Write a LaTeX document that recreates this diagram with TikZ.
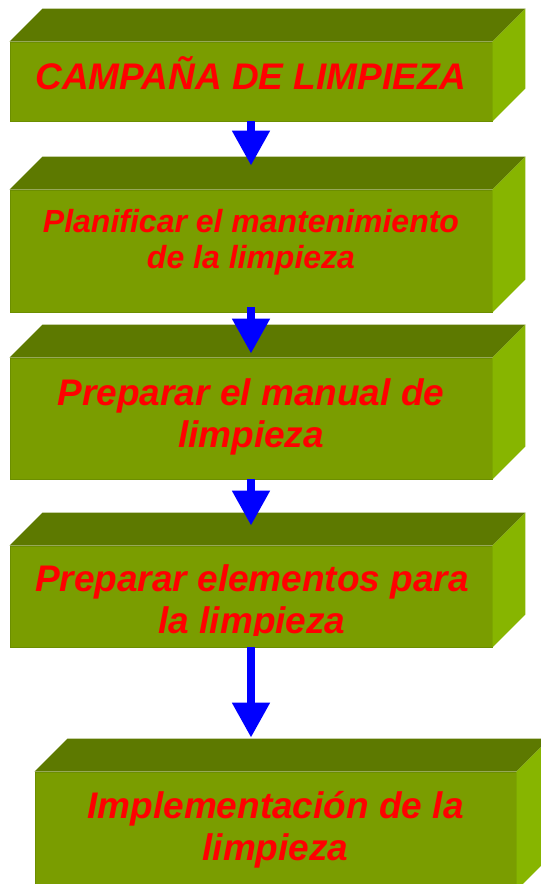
\documentclass[tikz,border=0pt]{standalone}
\usepackage{fontspec}
\setmainfont{Liberation Sans}
\usetikzlibrary{arrows.meta}
\definecolor{frontc}{RGB}{122,157,0}
\definecolor{topc}{RGB}{93,121,0}
\definecolor{sidec}{RGB}{135,181,0}
\definecolor{edgec}{RGB}{108,142,0}
\tikzset{
  front/.style={fill=frontc, draw=edgec, line width=0.8pt, inner sep=0pt},
  topface/.style={fill=topc},
  sideface/.style={fill=sidec},
  lbl/.style={text=red, font=\bfseries\itshape\fontsize{37}{42}\selectfont, align=center, anchor=base, inner sep=0pt},
  lblsmall/.style={lbl, font=\bfseries\itshape\fontsize{32}{36}\selectfont},
  arr/.style={draw=blue, line width=8pt, -{Triangle[width=36pt,length=35pt]}},
}
\newcommand\cubebox[5]{% name, cx, cy, w, h
  \node[front, minimum width=#4pt, minimum height=#5pt] (#1) at (#2,#3) {};
  \fill[topface] (#1.north west) -- ++(33,-33) -- ([shift={(33,-33)}]#1.north east) -- (#1.north east) -- cycle;
  \fill[sideface] (#1.north east) -- ++(33,-33) -- ([shift={(33,-33)}]#1.south east) -- (#1.south east) -- cycle;
}
\begin{document}
\begin{tikzpicture}[x=1pt,y=-1pt]
\clip (0,0) rectangle (541,884);
\cubebox{b1}{251}{81.5}{482}{79}
\cubebox{b2}{251}{251}{482}{122}
\cubebox{b3}{251}{418.5}{482}{121}
\cubebox{b4}{251}{596.5}{482}{101}
\cubebox{b5}{275.5}{831}{481}{118}

% anchor=base of a multi-line node is the baseline of its last line
\node[lbl] (t1) at (251,89) {CAMPAÑA DE LIMPIEZA};
\node[lblsmall] (t2) at (251,268) {Planificar el mantenimiento\\de la limpieza};
\node[lbl] (t3) at (251,447) {Preparar el manual de\\limpieza};
\begin{scope}
  \clip (0,546) rectangle (541,635);
  \node[lbl] (t4) at (252,633) {Preparar elementos para\\la limpieza};
\end{scope}
\node[lbl] (t5) at (275.5,860) {Implementación de la\\limpieza};

\draw[arr] (b1.south) -- ([yshift=24pt]b2.north);
\draw[arr] ([yshift=5pt]b2.south) -- ([yshift=4pt]b3.north);
\draw[arr] (b3.south) -- ([yshift=20pt]b4.north);
\draw[arr] (b4.south) -- ([xshift=-24.5pt,yshift=34pt]b5.north);
\end{tikzpicture}
\end{document}
